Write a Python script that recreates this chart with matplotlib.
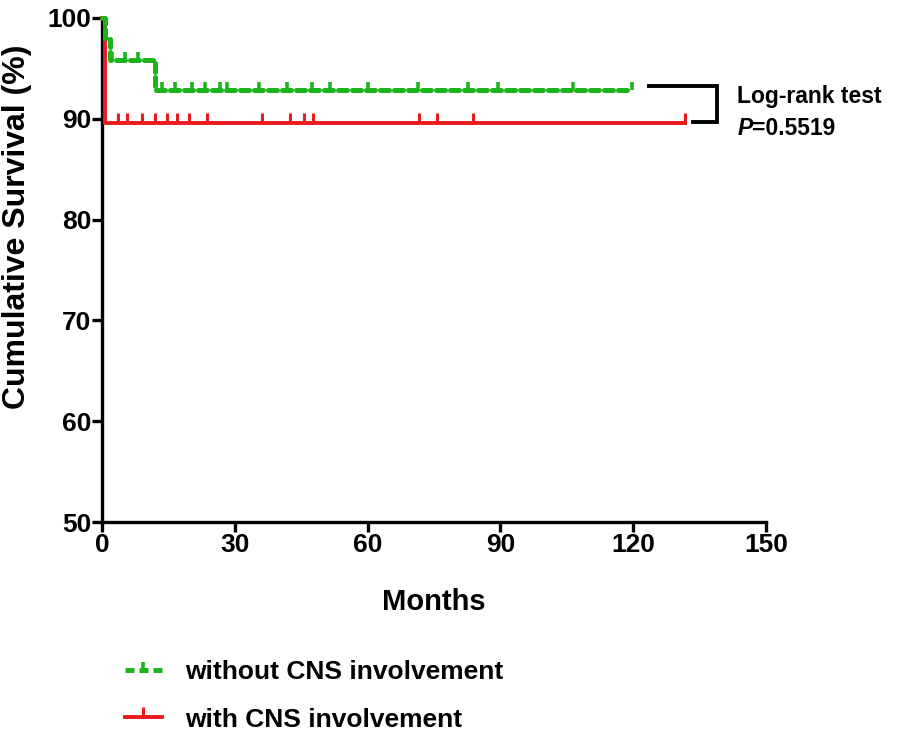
import matplotlib
matplotlib.use('Agg')
import matplotlib.pyplot as plt
from matplotlib.lines import Line2D

plt.rcParams['font.family'] = ['Liberation Sans', 'DejaVu Sans']
plt.rcParams['font.weight'] = 'bold'

# step curves (months, % surviving)
green_t = [0, 0.7, 1.8, 12.0, 119.7]
green_s = [100, 97.9, 95.8, 92.9, 92.9]
green_cens = [2.3, 5.2, 8.1, 13.6, 16.5, 20.3, 23.3, 26.7, 28.2, 35.5, 41.8,
              47.4, 51.5, 60.1, 71.4, 82.7, 89.5, 106.4, 119.7]

red_t = [0, 0.7, 131.6]
red_s = [100, 89.6, 89.6]
red_cens = [3.6, 5.6, 9.0, 12.0, 14.7, 16.9, 19.7, 23.7, 36.1, 42.5, 45.6,
            47.7, 71.6, 75.7, 83.8, 131.6]

xticks = [0, 30, 60, 90, 120, 150]
yticks = [50, 60, 70, 80, 90, 100]
labels = ['without CNS involvement', 'with CNS involvement']
p_text = '=0.5519'

green = '#1cb41c'
red = '#ea1a1e'


def surv_at(t, times, surv):
    val = surv[0]
    for ti, si in zip(times, surv):
        if t >= ti:
            val = si
    return val


fig = plt.figure(figsize=(9.04, 7.37), dpi=100)
ax = fig.add_axes([0.1128, 0.2917, 0.7345, 0.6839])

ax.step(red_t, red_s, where='post', color=red, lw=2.8, clip_on=False, zorder=3)
ax.plot(red_cens, [surv_at(t, red_t, red_s) for t in red_cens], ls='none',
        marker=2, ms=7, mew=2.2, color=red, clip_on=False, zorder=3)

ax.step(green_t, green_s, where='post', color=green, lw=3.6, clip_on=False,
        dashes=(1.8, 1.0), dash_capstyle='round', zorder=4)
ax.plot(green_cens, [surv_at(t, green_t, green_s) for t in green_cens], ls='none',
        marker=2, ms=6, mew=2.6, color=green, clip_on=False, zorder=4)

# log-rank bracket
ax.plot([123.6, 138.9, 138.9, 133.5], [93.3, 93.3, 89.7, 89.7], color='black',
        lw=2.8, clip_on=False, solid_joinstyle='miter')
ax.text(143.5, 92.2, 'Log-rank test', fontsize=16.5, fontweight='bold',
        va='center', ha='left', clip_on=False)
pt = ax.text(143.5, 89.0, 'P', fontsize=16.5, fontweight='bold', style='italic',
             va='center', ha='left', clip_on=False)
ax.annotate(p_text, xy=(1, 0), xycoords=pt, va='bottom', ha='left',
            fontsize=16.5, fontweight='bold', annotation_clip=False)

ax.set_xlim(0, 150)
ax.set_ylim(50, 100)
ax.set_xticks(xticks)
ax.set_yticks(yticks)
ax.set_xticklabels([str(v) for v in xticks], fontsize=19, fontweight='bold')
ax.set_yticklabels([str(v) for v in yticks], fontsize=19, fontweight='bold')
ax.tick_params(width=2.4, length=7, direction='out')
ax.tick_params(axis='x', pad=1)
ax.tick_params(axis='y', pad=0.5)

for side in ['top', 'right']:
    ax.spines[side].set_visible(False)
for side in ['left', 'bottom']:
    ax.spines[side].set_linewidth(2.4)

ax.set_xlabel('Months', fontsize=21, fontweight='bold')
ax.set_ylabel('Cumulative Survival (%)', fontsize=23, fontweight='bold')
ax.xaxis.set_label_coords(0.5, -0.131)
ax.yaxis.set_label_coords(-0.105, 0.585)

handles = [
    Line2D([0], [0], color=green, lw=3.6, dashes=(1.8, 1.0), marker=2, ms=6,
           mew=2.6),
    Line2D([0], [0], color=red, lw=2.8, marker=2, ms=7, mew=2.2),
]
leg = fig.legend(handles, labels, loc='upper left', bbox_to_anchor=(0.138, 0.1046),
                 frameon=False, handlelength=1.4, handletextpad=0.9,
                 labelspacing=0.9, borderpad=0, borderaxespad=0,
                 prop={'weight': 'bold', 'size': 19})
for h in leg.legend_handles:
    h.set_markevery([1])
    h.set_data([0, 0.5 * h.get_xdata()[-1] if len(h.get_xdata()) else 0,
                h.get_xdata()[-1]], [h.get_ydata()[0]] * 3)

fig.savefig('out.png', dpi=100)
